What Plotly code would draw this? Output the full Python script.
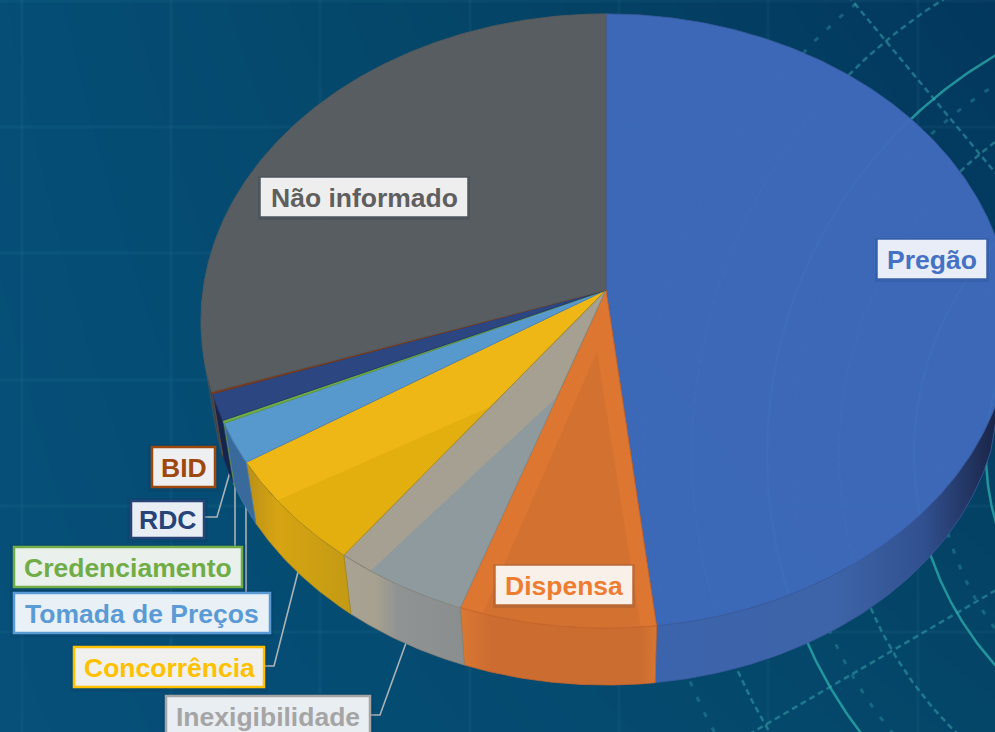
import numpy as np
import plotly.graph_objects as go

# ---- data ----
categories = ["Pregão", "Dispensa", "Inexigibilidade", "Concorrência", "Tomada de Preços",
              "Credenciamento", "RDC", "BID", "Não informado"]
shares = [48.2, 7.1, 4.9, 5.8, 2.1, 0.15, 1.4, 0.1, 30.25]

# ---- style ----
top_colors = ["rgba(62,106,186,0.96)", "rgba(227,120,48,0.97)", "rgba(170,163,148,0.97)", "rgba(243,186,20,0.98)",
              "rgba(90,155,207,0.98)", "rgba(112,173,71,1)", "rgba(44,70,130,0.98)", "rgba(120,60,30,1)",
              "rgba(90,94,96,0.97)"]
edge_colors = ["#3a5a9e", "#c9652a", "#8a8474", "#a98a20", "#4d85b5", "#5f9a40", "#24386c", "#7a3a1c", "#555a5c"]
side_colors = ["#3c64ad", "#cc6c30", "#93938e", "#c99a12", "#3a6a9c", "#5f9a40", "#15244c", "#3a2a2a", "#3c3f44"]
label_text = ["#4472c4", "#ed7d31", "#a5a5a5", "#ffc000", "#5b9bd5", "#70ad47", "#264478", "#9e480e", "#5f5f5f"]
label_bg = ["#e9edf7", "#faf0ea", "#e9eef2", "#f0f1ee", "#e9f0f6", "#eaf0ec", "#e9edf4", "#eeeff0", "#eeeeee"]
label_border = ["#e9edf7", "#faf0ea", "#a5a5a5", "#ffc000", "#5b9bd5", "#70ad47", "#264478", "#9e480e", "#eeeeee"]
# label boxes: x0, x1, y0, y1
label_box = [(879, 985, 241, 277), (497, 631, 567, 603), (166, 370, 696, 736), (74, 264, 647, 687),
             (14, 270, 593, 633), (14, 242, 547, 587), (131, 204, 501, 538), (152, 215, 447, 487),
             (262, 466, 179, 215)]
leaders = [[(406, 643), (380, 715), (370, 715)],
           [(298, 572), (274, 666), (265, 666)],
           [(246, 505), (246, 593)],
           [(235, 485), (235, 547)],
           [(230, 472), (217, 517), (205, 517)]]

# projection of the tilted disc
CX, CY, A, B, K = 606.0, 290.0, 403.0, 304.0, 0.101
SCALE, CY2 = 0.973, 356.0


def proj(theta, r=1.0, bottom=False):
    u, v = r * np.sin(theta), r * np.cos(theta)
    w = 1 + K * v
    x, y = CX + A * u / w, CY - B * v / w
    if bottom:
        x, y = CX + SCALE * (x - CX), CY2 + SCALE * (y - CY)
    return x, y


total = sum(shares)
bounds = 2 * np.pi * np.cumsum([0] + shares) / total

fig = go.Figure()


def poly(x, y, fill=None, line=None, width=0, **kw):
    fig.add_trace(go.Scatter(x=list(x), y=list(y), mode="lines", fill="toself",
                             fillcolor=fill, line=dict(color=line or "rgba(0,0,0,0)", width=width),
                             hoverinfo="skip", showlegend=False, **kw))


def stroke(x, y, color, width=1.0, dash="solid"):
    fig.add_trace(go.Scatter(x=list(x), y=list(y), mode="lines",
                             line=dict(color=color, width=width, dash=dash),
                             hoverinfo="skip", showlegend=False))


# background
fig.add_trace(go.Heatmap(x=[0, 995], y=[0, 732], z=[[0.12, 1.0], [0.0, 0.5]], zsmooth="best",
                         zmin=0, zmax=1, showscale=False, hoverinfo="skip",
                         colorscale=[[0, "#06507a"], [0.5, "#044668"], [1, "#03375d"]]))

GRID = "rgba(120,190,220,0.05)"
for gx in [22, 171, 320, 470, 619, 768, 918]:
    stroke([gx, gx], [0, 732], GRID, 3)
for gy in [1, 127, 253, 380, 506, 632]:
    stroke([0, 995], [gy, gy], GRID, 3)

RC = (1229.0, 454.0)
rings = [(462, "rgba(45,175,175,0.75)", 2.5, "solid"), (315, "rgba(45,175,175,0.75)", 2.5, "solid"),
         (243, "rgba(45,175,175,0.75)", 2.5, "solid"), (537, "rgba(60,170,175,0.50)", 2.5, "6px,4px"),
         (390, "rgba(60,170,175,0.50)", 2.5, "6px,4px"), (585, "rgba(60,170,175,0.35)", 3, "5px,12px"),
         (437, "rgba(60,170,175,0.35)", 3, "5px,12px"), (292, "rgba(60,170,175,0.35)", 3, "5px,12px")]
ring_angles = np.radians(np.linspace(100, 260, 300))
for rad, col, wid, dsh in rings:
    stroke(RC[0] + rad * np.cos(ring_angles), RC[1] + rad * np.sin(ring_angles), col, wid, dsh)
for ang in [np.arctan2(-284, -236), np.arctan2(278, -476)]:
    stroke([RC[0] + 240 * np.cos(ang), RC[0] + 620 * np.cos(ang)],
           [RC[1] + 240 * np.sin(ang), RC[1] + 620 * np.sin(ang)], "rgba(60,170,175,0.50)", 2.5, "6px,4px")

# leader lines
for pts in leaders:
    stroke([p[0] for p in pts], [p[1] for p in pts], "#aab2b6", 1.6)

# sides (front half only)
VIS0, VIS1 = np.radians(108), np.radians(258)
side_grad = {
    0: dict(type="horizontal", start=640, stop=995,
            colorscale=[[0, "#3c64ad"], [0.55, "#3d64a8"], [0.8, "#31508f"], [1, "#1a2548"]]),
    1: dict(type="horizontal", start=462, stop=657,
            colorscale=[[0, "#d97733"], [0.15, "#cc6c30"], [0.92, "#cb6d30"], [1, "#d97733"]]),
    2: dict(type="horizontal", start=345, stop=462,
            colorscale=[[0, "#a8a392"], [0.28, "#a5a08f"], [0.45, "#8f9393"], [1, "#8a8e8e"]]),
    3: dict(type="horizontal", start=245, stop=352,
            colorscale=[[0, "#b88e18"], [0.3, "#d6a412"], [1, "#c39a14"]]),
}
for i in range(len(shares)):
    t0, t1 = max(bounds[i], VIS0), min(bounds[i + 1], VIS1)
    if t1 <= t0:
        continue
    th = np.linspace(t0, t1, 90)
    xt, yt = proj(th)
    xb, yb = proj(th[::-1], bottom=True)
    xs, ys = np.r_[xt, xb, xt[0]], np.r_[yt, yb, yt[0]]
    if i in side_grad:
        poly(xs, ys, line=edge_colors[i], width=0.8, fillgradient=side_grad[i])
    else:
        poly(xs, ys, fill=side_colors[i], line=edge_colors[i], width=0.6)

# tops
for i in range(len(shares)):
    th = np.linspace(bounds[i], bounds[i + 1], max(3, int(np.degrees(bounds[i + 1] - bounds[i]) * 2)))
    xt, yt = proj(th)
    poly(np.r_[CX, xt, CX], np.r_[CY, yt, CY], fill=top_colors[i], line=edge_colors[i], width=0.9)


# sheen facets on the tops: slice, anchor position within the slice, anchor radius, rim range, colour
def facet(i, af, r0, f0, f1, col):
    s, e = bounds[i], bounds[i + 1]
    th = np.linspace(s + f0 * (e - s), s + f1 * (e - s), 40)
    xt, yt = proj(th)
    ax, ay = proj(s + af * (e - s), r0)
    poly(np.r_[ax, xt, ax], np.r_[ay, yt, ay], fill=col)


facet(2, 0.0, 0.36, 0.0, 0.75, "rgba(125,150,170,0.55)")
facet(3, 0.0, 0.46, 0.0, 0.62, "rgba(205,160,0,0.35)")
facet(1, 0.5, 0.2, 0.08, 0.88, "rgba(190,100,50,0.28)")

# labels
shapes, annotations = [], []
for name, box, tc, bg, bc in zip(categories, label_box, label_text, label_bg, label_border):
    x0, x1, y0, y1 = box
    shapes.append(dict(type="rect", xref="x", yref="y", x0=x0 - 4, x1=x1 + 4, y0=y0 - 3, y1=y1 + 5,
                       fillcolor="rgba(20,40,70,0.12)", line=dict(width=0), layer="above"))
    shapes.append(dict(type="rect", xref="x", yref="y", x0=x0, x1=x1, y0=y0, y1=y1,
                       fillcolor=bg, line=dict(color=bc, width=2.5), layer="above"))
    annotations.append(dict(x=(x0 + x1) / 2, y=(y0 + y1) / 2 + 0.5, xref="x", yref="y",
                            text="<b>" + name + "</b>", showarrow=False,
                            font=dict(family="Liberation Sans, Arial, sans-serif", size=26.5, color=tc),
                            xanchor="center", yanchor="middle"))

fig.update_layout(width=995, height=732, margin=dict(l=0, r=0, t=0, b=0),
                  paper_bgcolor="#05466c", plot_bgcolor="#05466c", showlegend=False,
                  xaxis=dict(range=[0, 995], visible=False, fixedrange=True),
                  yaxis=dict(range=[732, 0], visible=False, fixedrange=True),
                  shapes=shapes, annotations=annotations)

fig.write_html("out.html", config={"displayModeBar": False, "responsive": False},
               post_script="document.body.style.margin='0';document.body.style.overflow='hidden';")
